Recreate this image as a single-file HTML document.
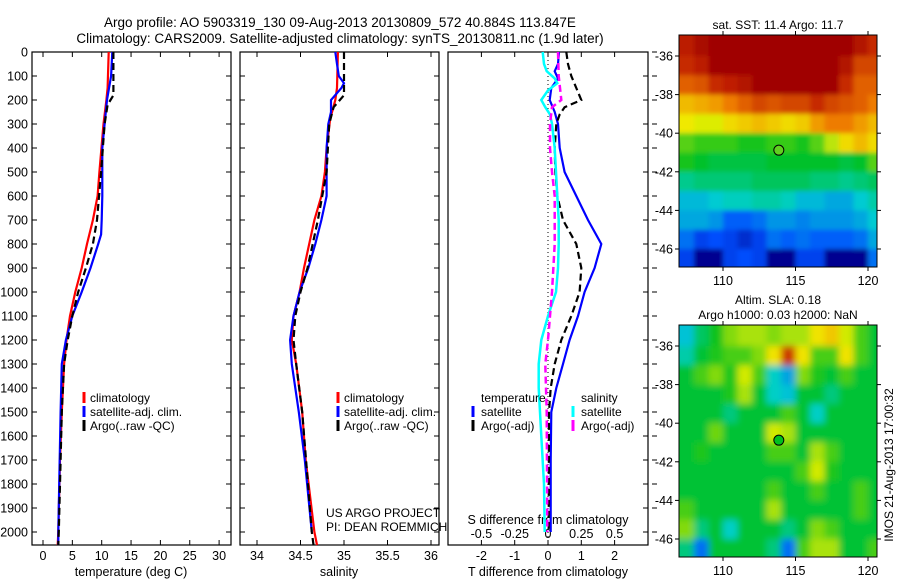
<!DOCTYPE html>
<html><head><meta charset="utf-8">
<style>
html,body{margin:0;padding:0;background:#fff;}
svg{display:block;font-family:"Liberation Sans",sans-serif;}
</style></head>
<body>
<svg id="fig" width="900" height="580" viewBox="0 0 900 580" xmlns="http://www.w3.org/2000/svg">
<defs>
<filter id="blurTop" x="-10%" y="-10%" width="120%" height="120%"><feGaussianBlur stdDeviation="2.5"/></filter>
<filter id="blurBot" x="-10%" y="-10%" width="120%" height="120%"><feGaussianBlur stdDeviation="3.5"/></filter>
</defs>
<text x="340" y="27" font-size="13.5" text-anchor="middle">Argo profile: AO 5903319_130 09-Aug-2013 20130809_572 40.884S 113.847E</text>
<text x="340" y="43" font-size="13.5" text-anchor="middle">Climatology: CARS2009. Satellite-adjusted climatology: synTS_20130811.nc (1.9d later)</text>
</svg>
<script>
// ---------- DATA ----------
const depthTicks=[0,100,200,300,400,500,600,700,800,900,1000,1100,1200,1300,1400,1500,1600,1700,1800,1900,2000];
const tempTicks=[0,5,10,15,20,25,30];
const salTicks=[34,34.5,35,35.5,36];
const salTickLabels=["34","34.5","35","35.5","36"];
const tdiffTicks=[-2,-1,0,1,2];
const sdiffTicks=[-0.5,-0.25,0,0.25,0.5];
const sdiffTickLabels=["-0.5","-0.25","0","0.25","0.5"];

const tClimD=[0,150,200,300,500,600,700,800,900,1000,1100,1200,1300,1500,1700,2000,2054];
const tClimV=[11.2,11.0,10.8,10.3,9.6,9.3,8.5,7.5,6.6,5.5,4.6,4.0,3.6,3.2,2.9,2.6,2.5];
const tSatD=[0,100,200,300,400,600,700,760,800,900,1000,1100,1200,1300,1500,2000,2054];
const tSatV=[11.8,11.6,10.9,10.5,10.1,10.1,10.0,9.9,9.4,8.1,6.6,5.0,3.9,3.2,3.0,2.6,2.6];
const tArgD=[0,180,220,300,500,700,800,900,1000,1100,1200,1300,1500,2000,2054];
const tArgV=[12.0,12.0,11.0,10.5,9.9,9.2,8.5,7.3,6.0,5.0,4.2,3.6,3.2,2.7,2.6];

const sClimD=[0,150,200,280,400,500,600,700,800,900,1000,1100,1200,1300,1500,1700,2000,2054];
const sClimV=[34.93,34.92,34.90,34.84,34.80,34.78,34.74,34.66,34.60,34.54,34.49,34.42,34.40,34.45,34.52,34.56,34.66,34.69];
const sSatD=[0,50,100,130,150,200,250,300,400,600,700,800,900,1000,1100,1200,1300,1500,1700,2000];
const sSatV=[34.90,34.92,34.94,35.00,34.97,34.85,34.85,34.82,34.80,34.80,34.74,34.67,34.59,34.49,34.42,34.38,34.40,34.48,34.55,34.63];
const sArgD=[0,180,230,300,500,700,900,1000,1100,1200,1300,1500,2000,2054];
const sArgV=[35.0,35.0,34.88,34.83,34.80,34.70,34.58,34.50,34.44,34.42,34.45,34.52,34.63,34.65];

const dTSatD=[0,50,80,110,150,200,250,300,400,500,600,700,800,900,1000,1100,1200,1300,1400,1500,1700,2000];
const dTSatV=[0.33,0.3,0.2,0.3,0.1,0.05,0.2,0.3,0.35,0.5,0.85,1.2,1.6,1.4,1.1,0.9,0.65,0.45,0.25,0.1,0.08,0.08];
const dTArgD=[0,50,100,150,200,230,260,300,400,500,600,700,800,900,1000,1100,1200,1300,1400,1500,2000];
const dTArgV=[0.55,0.6,0.7,0.85,1.0,0.5,0.35,0.25,0.2,0.22,0.28,0.45,0.85,1.0,0.95,0.7,0.4,0.2,0.08,0.03,0.02];
const dSSatD=[0,50,80,110,130,160,200,230,260,300,400,500,600,700,800,900,1000,1100,1200,1300,1400,1500,1600,1800,2000];
const dSSatV=[-0.04,-0.03,-0.01,0.05,0.07,0.0,-0.05,-0.02,0.015,0.03,0.05,0.06,0.07,0.08,0.08,0.075,0.06,0.0,-0.05,-0.07,-0.07,-0.06,-0.05,-0.03,-0.025];
const dSArgD=[0,100,200,230,300,400,500,600,800,1000,1100,1200,1300,1500,2000];
const dSArgV=[0.075,0.08,0.1,0.03,0.015,0.015,0.03,0.05,0.05,0.03,0.015,0.0,-0.02,-0.01,-0.005];

const lonTicks=[110,115,120];
const latTicks=[-36,-38,-40,-42,-44,-46];
const mapLonStart=107, mapLatStart=-35;
const sstGrid=[
[13.0,13.4,14,14,14,14,14,14,14,14,14,13.8,13.2,12.8],
[12.8,13.0,13.8,14,14,14,14,14,14,14,14,13.2,12.6,12.6],
[12.4,12.5,12.8,12.9,13.2,14,14,14,14,14,13.6,12.8,12.4,12.4],
[11.8,11.9,12.0,12.2,12.4,12.6,12.5,12.6,12.6,12.8,12.6,12.5,12.4,12.2],
[11.5,11.4,11.4,11.6,11.7,11.8,11.7,11.6,11.7,12.0,12.2,12.2,12.0,11.8],
[11.0,10.9,10.9,10.9,10.8,10.8,10.9,10.9,10.8,11.0,11.3,11.6,11.8,11.6],
[10.8,10.7,10.6,10.6,10.6,10.6,10.7,10.7,10.7,10.7,10.7,10.6,10.7,11.0],
[10.3,10.4,10.4,10.4,10.4,10.5,10.5,10.5,10.5,10.4,10.4,10.3,10.4,10.5],
[9.9,9.9,10.0,10.1,10.1,10.2,10.2,10.1,9.9,9.9,9.8,9.8,10.0,10.2],
[9.8,9.8,9.7,9.4,9.4,9.5,9.7,9.7,9.6,9.7,9.7,9.7,9.8,10.0],
[9.5,9.2,9.3,9.2,9.0,9.2,9.5,9.4,9.5,9.4,9.4,9.4,9.5,9.8],
[9.2,8.4,8.4,9.2,9.3,9.2,8.4,8.4,9.2,9.2,8.4,8.4,8.4,9.5]];
const slaGrid=[
[-0.12,-0.03,0.02,0.08,0.1,0.1,0.08,0.1,0.1,0.15,0.18,0.12,0.05,0],
[-0.08,0,0.03,0.05,0.05,0.08,0.15,0.35,0.15,0.05,0.05,0.15,0.05,0],
[0,0.05,0.08,0.03,0.12,0.05,-0.1,-0.15,0.08,0.03,0,0.05,0,0],
[0,0,0,0.03,0.1,0,-0.1,-0.12,0,0,-0.05,0,0,0],
[0,0,0,-0.05,0,0,0,0.05,0,-0.1,0,0,0,0],
[0,0,0.07,0,0,0,0.12,0.1,0,0,0,0,0,0],
[0,0.03,0,0,0,0,0.05,0.05,0,0.1,0.05,0,0,0],
[0,0,0,0,0,0,0,0,0.05,0.12,0.03,0,0,0],
[0,0,0,0,0,0,0.05,0,0,0.05,0,0,0.05,0],
[0.05,0,0,0,0,0,0.1,0,0,0,0,0,0.05,0],
[0.08,-0.05,0,-0.1,0,0,0,-0.05,0,0.08,0.05,0,0,0],
[-0.05,-0.2,0,0,0,0,-0.05,-0.2,0.05,0.1,0.1,0,0,0.05]];
const argoLon=113.85, argoLat=-40.88, argoSST=11.7;

// ---------- HELPERS ----------
const NS="http://www.w3.org/2000/svg";
const svg=document.getElementById('fig');
function mk(tag,parent){const e=document.createElementNS(NS,tag);(parent||svg).appendChild(e);return e;}
function txt(parent,x,y,s,size,anchor){const t=mk('text',parent);t.setAttribute('x',x);t.setAttribute('y',y);t.setAttribute('font-size',size||12);t.setAttribute('text-anchor',anchor||'middle');t.textContent=s;return t;}
function ln(parent,x1,y1,x2,y2,col,w,dash){const l=mk('line',parent);l.setAttribute('x1',x1);l.setAttribute('y1',y1);l.setAttribute('x2',x2);l.setAttribute('y2',y2);l.setAttribute('stroke',col||'#000');l.setAttribute('stroke-width',w||1);if(dash)l.setAttribute('stroke-dasharray',dash);return l;}

const yTop=52, yBot=545;
const yD=d=>yTop+0.24*d;
const xT=v=>43+5.87*v;
const xS=v=>344+87*(v-35);
const xDT=v=>548+33.3*v;
const xDS=v=>548+133.2*v;

function panel(name,x0,x1){
  const g=mk('g');
  const r=mk('rect',g);r.setAttribute('x',x0);r.setAttribute('y',yTop);r.setAttribute('width',x1-x0);r.setAttribute('height',yBot-yTop);r.setAttribute('fill','none');r.setAttribute('stroke','#000');r.setAttribute('stroke-width',1.2);
  return g;
}
function series(g,name,D,V,xf,col,w,dash){
  const p=mk('polyline',g);
  
  
  p.setAttribute('points',D.map((d,i)=>xf(V[i]).toFixed(1)+','+yD(d).toFixed(1)).join(' '));
  p.setAttribute('fill','none');p.setAttribute('stroke',col);p.setAttribute('stroke-width',w);
  if(dash)p.setAttribute('stroke-dasharray',dash);
}
function depthTicksOn(g,x0,x1,labels){
  depthTicks.forEach(d=>{const y=yD(d);ln(g,x0,y,x0+5,y);ln(g,x1,y,x1-5,y);
    if(labels)txt(g,28,y+4.5,String(d),12.5,'end');});
}
function xTicksOn(g,vals,labs,xf,ly){
  vals.forEach((v,i)=>{const x=xf(v);ln(g,x,yTop,x,yTop+5);ln(g,x,yBot,x,yBot-5);txt(g,x,ly,labs[i],12.5);});
}
function legendMark(g,x,y,col){ln(g,x,y-10,x,y+1,col,3);}

// ---------- PANEL 1 ----------
let g=panel('temperature-panel',32,231);
depthTicksOn(g,32,231,true);
xTicksOn(g,tempTicks,tempTicks.map(String),xT,560);
txt(g,131,576,'temperature (deg C)',12.5);
series(g,'temp-climatology-line',tClimD,tClimV,xT,'#f00',2.2);
series(g,'temp-satellite-line',tSatD,tSatV,xT,'#00f',2.2);
series(g,'temp-argo-line',tArgD,tArgV,xT,'#000',2.2,'7,4');
let lg=mk('g',g);
[['climatology','#f00'],['satellite-adj. clim.','#00f'],['Argo(..raw -QC)','#000']].forEach((e,i)=>{const y=402+14*i;legendMark(lg,84,y,e[1]);txt(lg,90,y,e[0],12,'start');});

// ---------- PANEL 2 ----------
g=panel('salinity-panel',240,439);
depthTicksOn(g,240,439,false);
xTicksOn(g,salTicks,salTickLabels,xS,560);
txt(g,339,576,'salinity',12.5);
series(g,'sal-climatology-line',sClimD,sClimV,xS,'#f00',2.2);
series(g,'sal-satellite-line',sSatD,sSatV,xS,'#00f',2.2);
series(g,'sal-argo-line',sArgD,sArgV,xS,'#000',2.2,'7,4');
lg=mk('g',g);
[['climatology','#f00'],['satellite-adj. clim.','#00f'],['Argo(..raw -QC)','#000']].forEach((e,i)=>{const y=402+14*i;legendMark(lg,338,y,e[1]);txt(lg,344,y,e[0],12,'start');});
txt(g,326,517,'US ARGO PROJECT',12,'start');
txt(g,326,531,'PI: DEAN ROEMMICH',12,'start');

// ---------- PANEL 3 ----------
g=panel('difference-panel',448,648);
depthTicks.forEach(d=>{const y=yD(d);ln(g,648,y,643,y);ln(g,652,y,657,y);});
xTicksOn(g,tdiffTicks,tdiffTicks.map(String),xDT,560);
sdiffTicks.forEach((v,i)=>{txt(g,xDS(v),538,sdiffTickLabels[i],12.5);});
txt(g,548,524,'S difference from climatology',12.5);
txt(g,548,576,'T difference from climatology',12.5);
ln(g,548,yTop,548,yBot,'#000',1,'1,3');
series(g,'tdiff-satellite-line',dTSatD,dTSatV,xDT,'#00f',2.2);
series(g,'tdiff-argo-line',dTArgD,dTArgV,xDT,'#000',2.2,'7,4');
series(g,'sdiff-satellite-line',dSSatD,dSSatV,xDS,'#0ff',2.5);
series(g,'sdiff-argo-line',dSArgD,dSArgV,xDS,'#f0f',2.5,'7,4');
lg=mk('g',g);
txt(lg,481,402,'temperature',12,'start');txt(lg,581,402,'salinity',12,'start');
legendMark(lg,473,416,'#00f');txt(lg,481,416,'satellite',12,'start');
legendMark(lg,473,430,'#000');txt(lg,481,430,'Argo(-adj)',12,'start');
legendMark(lg,573,416,'#0ff');txt(lg,581,416,'satellite',12,'start');
legendMark(lg,573,430,'#f0f');txt(lg,581,430,'Argo(-adj)',12,'start');

// ---------- MAPS ----------
const stops=[[0,0,144],[0,80,255],[0,208,208],[0,192,32],[240,240,0],[240,128,0],[192,32,0],[160,0,0]];
function cmap(t){t=Math.max(0,Math.min(1,t))*(stops.length-1);const i=Math.min(Math.floor(t),stops.length-2),f=t-i;
  const a=stops[i],b=stops[i+1];return 'rgb('+a.map((c,k)=>Math.round(c+(b[k]-c)*f)).join(',')+')';}
const mx0=679,mx1=877;
const xLon=l=>723+14.5*(l-110);
function mapPanel(name,top,bot,grid,vmin,vmax,titleLines,filt,dotFill){
  const yLat=la=>(top+21)+19.3*(-36-la);
  const gm=mk('g');
  const cp=mk('clipPath',gm);cp.setAttribute('id',name+'-clip');
  const cr=mk('rect',cp);cr.setAttribute('x',mx0);cr.setAttribute('y',top);cr.setAttribute('width',mx1-mx0);cr.setAttribute('height',bot-top);
  const wrap=mk('g',gm);wrap.setAttribute('clip-path','url(#'+name+'-clip)');
  [false,true].forEach(blurred=>{
    const cells=mk('g',wrap);
    if(blurred)cells.setAttribute('filter','url(#'+filt+')');
    const nr=grid.length, nc=grid[0].length;
    grid.forEach((row,r)=>row.forEach((v,c)=>{
      const rc=mk('rect',cells);
      
      
      let x=xLon(mapLonStart+c),y=yLat(mapLatStart-r),w=14.5+0.6,h=19.3+0.6;
      if(c===0){x-=12;w+=12;} if(c===nc-1){w+=12;}
      if(r===0){y-=12;h+=12;} if(r===nr-1){h+=12;}
      rc.setAttribute('x',x);rc.setAttribute('y',y);rc.setAttribute('width',w);rc.setAttribute('height',h);
      rc.setAttribute('fill',cmap((v-vmin)/(vmax-vmin)));
    }));
  });
  const fr=mk('rect',gm);fr.setAttribute('x',mx0);fr.setAttribute('y',top);fr.setAttribute('width',mx1-mx0);fr.setAttribute('height',bot-top);fr.setAttribute('fill','none');fr.setAttribute('stroke','#000');
  lonTicks.forEach(l=>{const x=xLon(l);ln(gm,x,top,x,top-4);ln(gm,x,bot,x,bot+4);txt(gm,x,bot+18,String(l),12.5);});
  latTicks.forEach(la=>{const y=yLat(la);ln(gm,mx0,y,mx0-4,y);ln(gm,mx1,y,mx1+4,y);txt(gm,673,y+4.5,String(la),12.5,'end');});
  titleLines.forEach((s,i)=>txt(gm,778,top-(titleLines.length-1-i)*15-6,s,12));
  const dot=mk('circle',gm);
  dot.setAttribute('cx',xLon(argoLon));dot.setAttribute('cy',yLat(argoLat));dot.setAttribute('r',5);dot.setAttribute('stroke','#000');dot.setAttribute('stroke-width',1);
  dot.setAttribute('fill',dotFill);
  return gm;
}
mapPanel('sst-map',35,267,sstGrid,8.6,13.6,['sat. SST: 11.4  Argo: 11.7'],'blurTop','#60d020');
mapPanel('sla-map',325,557,slaGrid,-0.35,0.5,['Altim. SLA: 0.18','Argo h1000: 0.03 h2000: NaN'],'blurBot','#00c020');
const it=txt(svg,0,0,'IMOS 21-Aug-2013 17:00:32',12,'middle');


it.setAttribute('transform','translate(893,465) rotate(-90)');
</script>
</body></html>
